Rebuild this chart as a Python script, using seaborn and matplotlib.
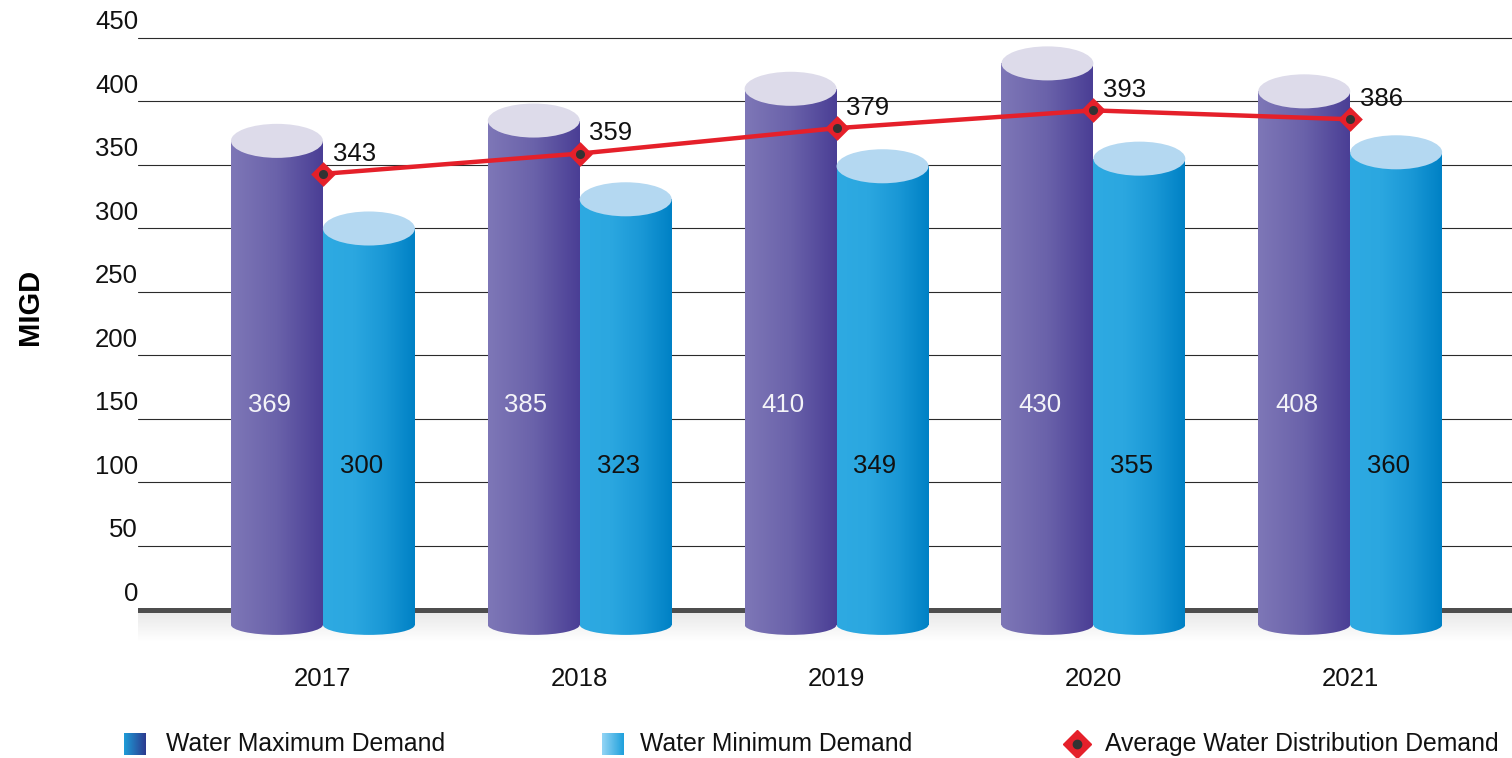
import numpy as np
import pandas as pd
import matplotlib
matplotlib.use("Agg")
import matplotlib.pyplot as plt
from matplotlib.colors import LinearSegmentedColormap
from matplotlib.patches import Ellipse, Rectangle
from matplotlib.transforms import ScaledTranslation
from matplotlib.lines import Line2D
import seaborn as sns

# ---- data -------------------------------------------------------------
years = ["2017", "2018", "2019", "2020", "2021"]
max_demand = [369, 385, 410, 430, 408]
min_demand = [300, 323, 349, 355, 360]
avg_distribution = [343, 359, 379, 393, 386]
series_names = ["Water Maximum Demand", "Water Minimum Demand"]
avg_name = "Average Water Distribution Demand"
y_ticks = list(range(0, 451, 50))
y_label = "MIGD"

# ---- styling ----------------------------------------------------------
sns.set_theme(style="white")
plt.rcParams["font.family"] = ["Liberation Sans", "DejaVu Sans"]
TEXT = "#111111"
FS = 18.5
LEG_FS = 17.8

body_cmaps = {
    series_names[0]: LinearSegmentedColormap.from_list(
        "purple_body", ["#7e77b7", "#6a62aa", "#4a3e95"]),
    series_names[1]: LinearSegmentedColormap.from_list(
        "blue_body", ["#2eaae2", "#2ba7e0", "#1a98d6", "#0081c5"]),
}
top_colors = {series_names[0]: "#dddbea", series_names[1]: "#b4d8f1"}
base_colors = ["#5f56a3", "#1f9ad8"]
label_colors = {series_names[0]: "#f4f4f8", series_names[1]: TEXT}
label_y = {series_names[0]: 161, series_names[1]: 113}
RED = "#e5202a"

W, H = 1512, 758
fig = plt.figure(figsize=(W / 100, H / 100), dpi=100)
fig.patch.set_facecolor("white")
ax = fig.add_axes([138 / W, (H - 647.6) / H, (W - 138) / W, (647.6 - 25.3) / H])
ax.set_facecolor("white")

YMIN, YMAX = -30, 460
XMIN, XMAX = -0.72, 4.63

df = pd.DataFrame({
    "year": years * 2,
    "value": max_demand + min_demand,
    "series": [series_names[0]] * len(years) + [series_names[1]] * len(years),
})

sns.barplot(data=df, x="year", y="value", hue="series", order=years,
            hue_order=series_names, width=0.716, palette=base_colors,
            saturation=1, legend=False, ax=ax, zorder=3)

# grid and baseline
for t in y_ticks[1:]:
    ax.axhline(t, color="#2b2b2b", lw=0.8, zorder=0.5)
ax.axhline(0, color="#4d4d4d", lw=3.6, zorder=2)

# soft shadow under the baseline
shade = np.zeros((60, 1, 4))
shade[..., 3] = np.linspace(0.10, 0.0, 60).reshape(-1, 1)
ax.imshow(shade, extent=(XMIN, XMAX, -26, 0), aspect="auto", origin="upper",
          interpolation="bicubic", zorder=1)

# turn the flat bars into cylinders
TOP_HH = 13.4      # half height of top ellipse (data units)
BASE_C = -12       # centre of bottom ellipse
BASE_HH = 8        # half height of bottom ellipse
grad = np.linspace(0, 1, 256).reshape(1, -1)
bars = [p for p in ax.patches if isinstance(p, Rectangle) and p.get_width() > 0]
for i, p in enumerate(bars):
    series = series_names[i // len(years)]
    cmap = body_cmaps[series]
    x0, w, h = p.get_x(), p.get_width(), p.get_height()
    cx = x0 + w / 2
    p.set_y(BASE_C)
    p.set_height(h - BASE_C)
    p.set_facecolor("none")
    p.set_edgecolor("none")
    im = ax.imshow(grad, extent=(x0, x0 + w, BASE_C - BASE_HH, h), aspect="auto",
                   cmap=cmap, interpolation="bicubic", zorder=3)
    im.set_clip_path(p)
    bottom = Ellipse((cx, BASE_C), w, 2 * BASE_HH, transform=ax.transData)
    im2 = ax.imshow(grad, extent=(x0, x0 + w, BASE_C - BASE_HH, h), aspect="auto",
                    cmap=cmap, interpolation="bicubic", zorder=3)
    im2.set_clip_path(bottom)
    ax.add_patch(Ellipse((cx, h), w, 2 * TOP_HH, facecolor=top_colors[series],
                         edgecolor="none", zorder=4))
    ax.text(cx - 0.03, label_y[series], f"{h:.0f}", ha="center", va="center",
            fontsize=FS, color=label_colors[series], zorder=6)

# average distribution line
sns.pointplot(x=years, y=avg_distribution, order=years, color=RED,
              marker="D", markersize=10.5, linewidth=3.2, errorbar=None,
              ax=ax, zorder=7)
line = ax.lines[-1]
sns.pointplot(x=years, y=avg_distribution, order=years, color="#333333",
              marker="o", markersize=4.5, linestyle="none", errorbar=None,
              ax=ax, zorder=8)
for xv, yv in zip(line.get_xdata(), avg_distribution):
    ax.annotate(f"{yv}", (xv, yv), xytext=(7, 9.5), textcoords="offset points",
                ha="left", va="baseline", fontsize=FS, color=TEXT, zorder=9)

# axes cosmetics
ax.set_xlim(XMIN, XMAX)
ax.set_ylim(YMIN, YMAX)
ax.set_yticks(y_ticks)
ax.set_yticklabels([str(t) for t in y_ticks])
ax.set_xlabel("")
ax.set_ylabel("")
for s in ax.spines.values():
    s.set_visible(False)
ax.tick_params(axis="y", length=0, pad=0, labelsize=FS, labelcolor=TEXT)
ax.tick_params(axis="x", length=0, pad=14, labelsize=FS, labelcolor=TEXT)
lift = ScaledTranslation(0, 13 / 72, fig.dpi_scale_trans)
for lab in ax.get_yticklabels():
    lab.set_transform(lab.get_transform() + lift)

fig.text(30 / W, 1 - 307 / H, y_label, rotation=90, ha="center", va="center",
         fontsize=21, fontweight="bold", color="#000000")

# legend row
leg_y = 1 - 744 / H
icon_cmaps = [
    LinearSegmentedColormap.from_list("leg_max", ["#1e9dd8", "#2c3a8f"]),
    LinearSegmentedColormap.from_list("leg_min", ["#94d5f5", "#1ea0dc"]),
]
for (ix, tx), cmap, name in zip([(124, 166), (602, 640)], icon_cmaps, series_names):
    iax = fig.add_axes([ix / W, 1 - 755 / H, 22 / W, 22 / H])
    iax.imshow(grad, aspect="auto", cmap=cmap, interpolation="bicubic")
    iax.set_axis_off()
    fig.text(tx / W, leg_y, name, ha="left", va="center", fontsize=LEG_FS, color=TEXT)

fig.add_artist(Line2D([1077 / W], [leg_y], marker="D", markersize=14.5,
                      color=RED, markeredgecolor=RED, transform=fig.transFigure))
fig.add_artist(Line2D([1077 / W], [leg_y], marker="o", markersize=6,
                      color="#333333", transform=fig.transFigure))
fig.text(1105 / W, leg_y, avg_name, ha="left", va="center", fontsize=LEG_FS, color=TEXT)

fig.savefig("out.png", dpi=100)
